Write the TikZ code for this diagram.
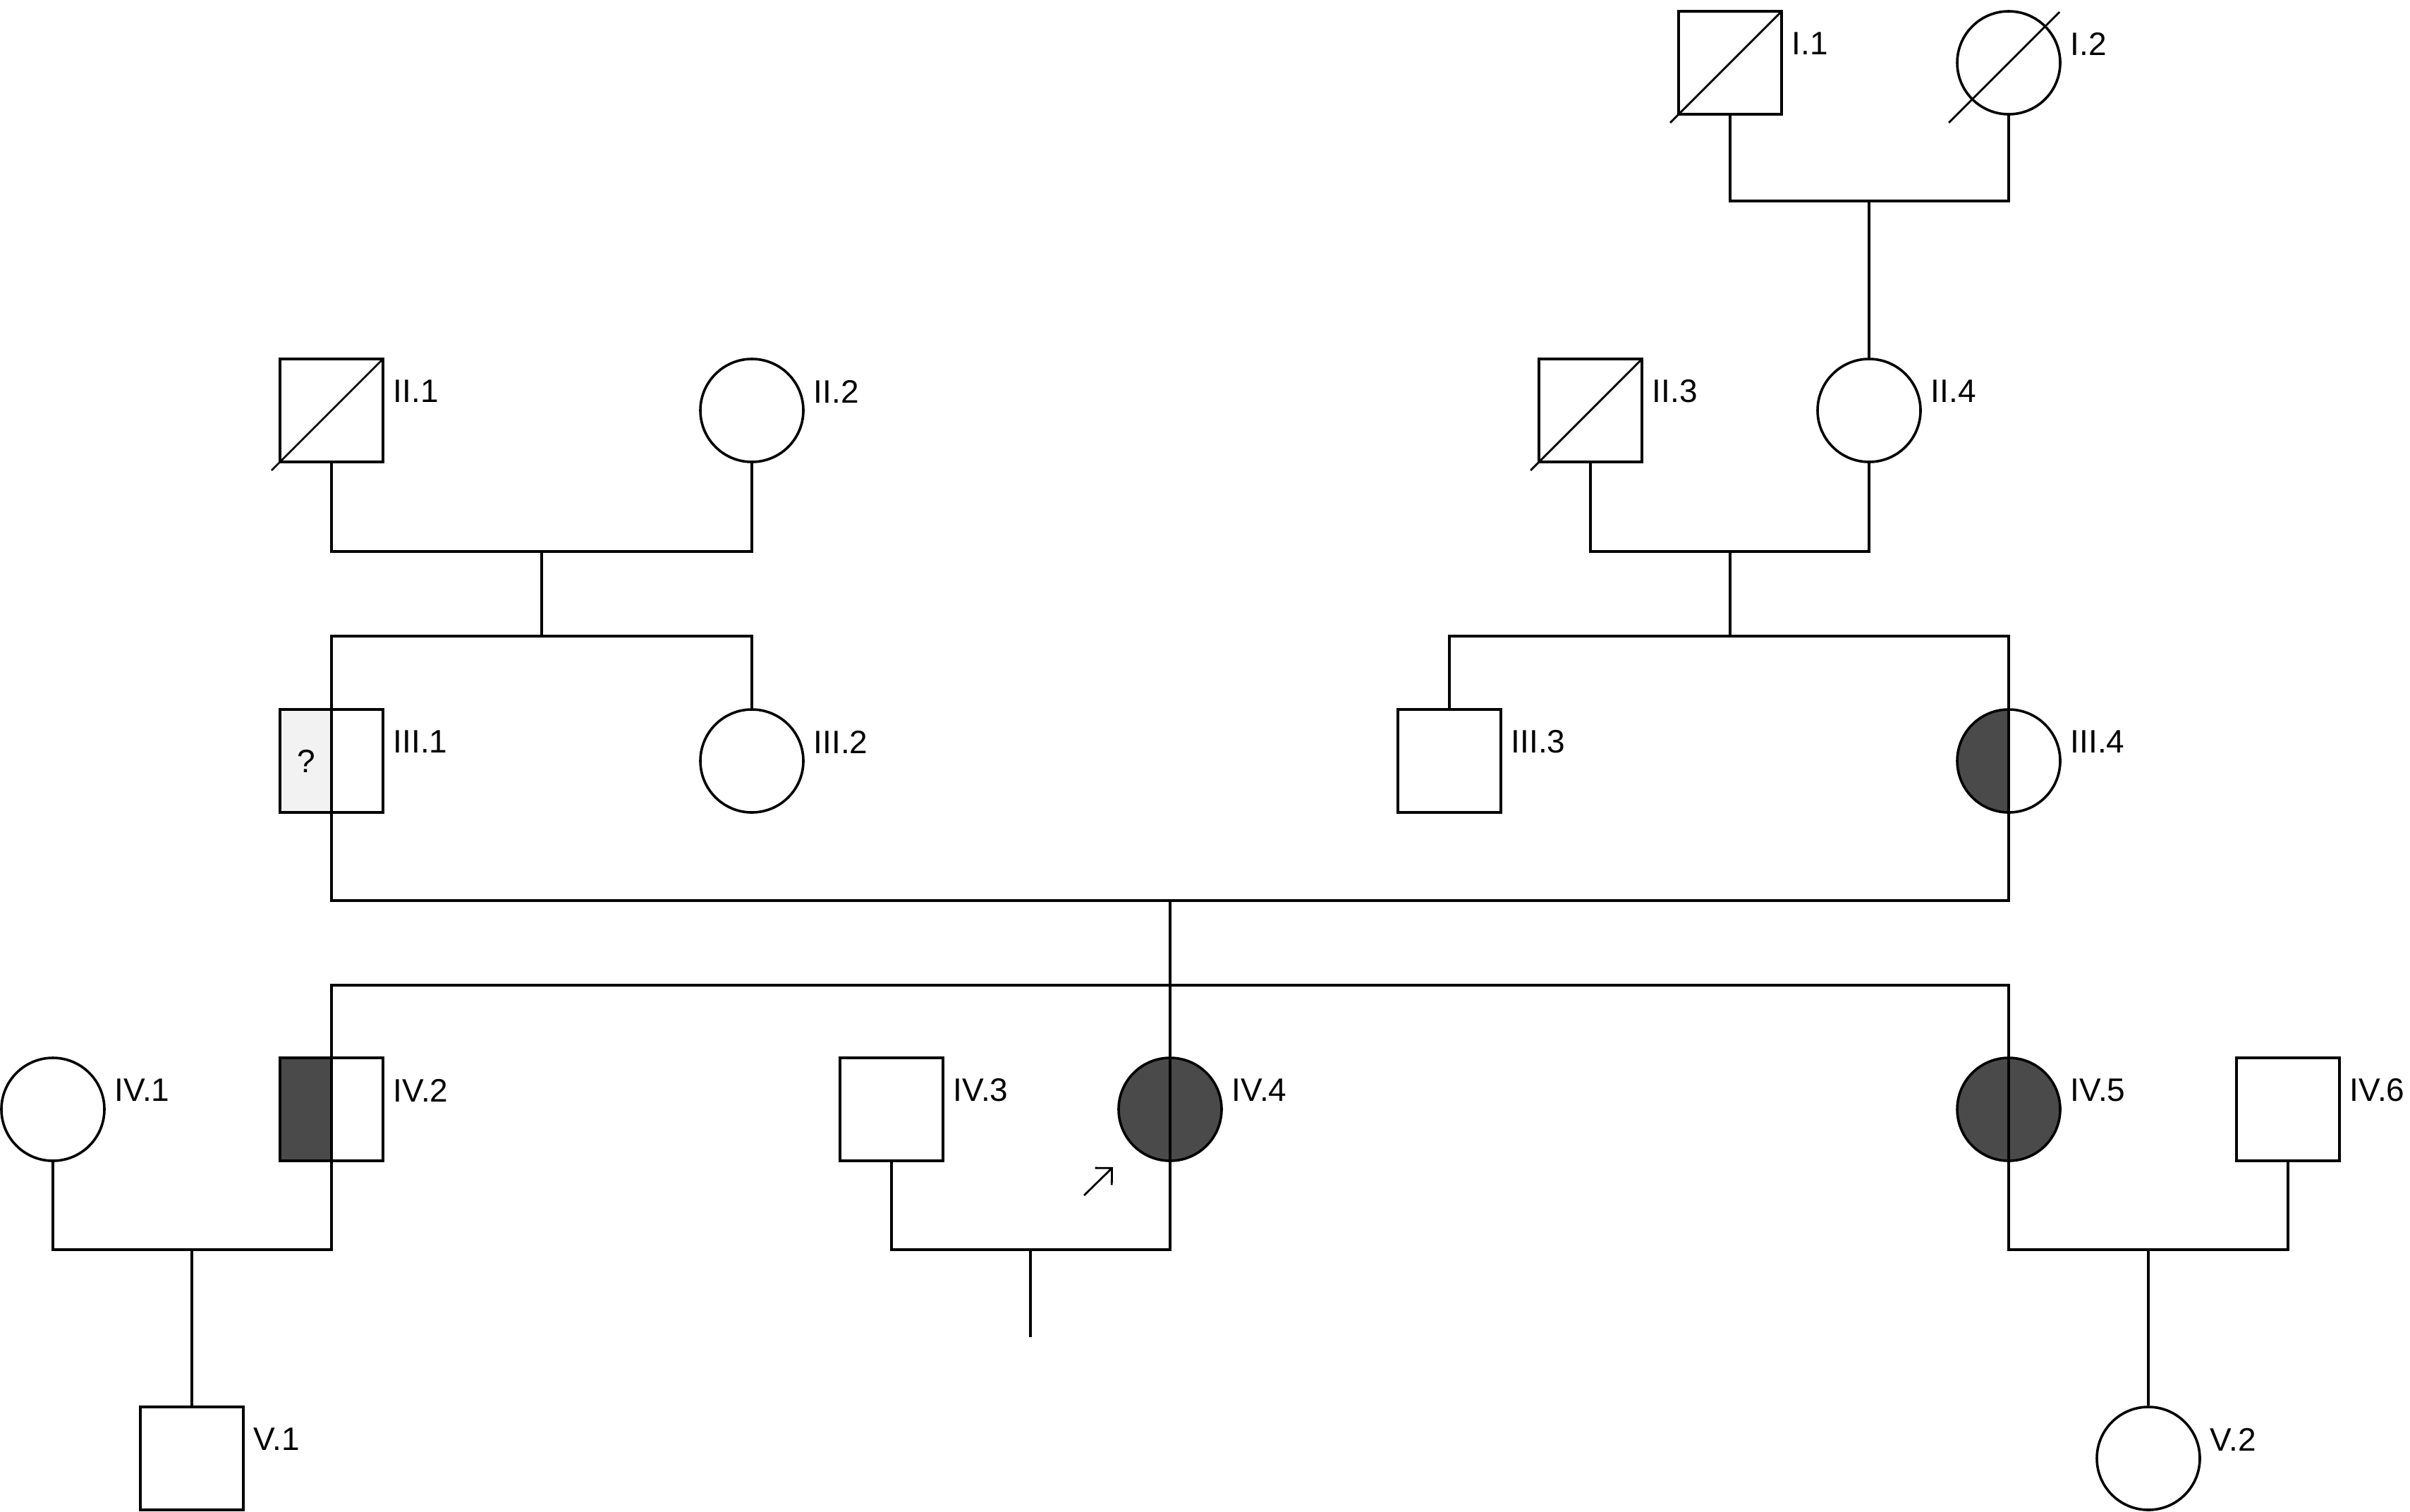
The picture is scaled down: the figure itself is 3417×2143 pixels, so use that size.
\documentclass[tikz,border=0pt]{standalone}
\usepackage{fontspec}
\setmainfont{Liberation Sans}
\newfontfamily\lblfont{Liberation Sans}
\usetikzlibrary{calc,arrows.meta}
\definecolor{affected}{HTML}{4A4A4A}
\definecolor{unknownfill}{HTML}{F2F2F2}
\tikzset{
  sym/.style={draw, line width=0.9pt, minimum size=36.5pt, inner sep=0pt, fill=white},
  male/.style={sym, rectangle},
  female/.style={sym, circle},
  lefthalf/.style={path picture={\fill[#1] (path picture bounding box.south west) rectangle (path picture bounding box.north);}},
  fullfill/.style={fill=affected},
  lbl/.style={anchor=west, inner sep=0pt, font=\lblfont\fontsize{11.5pt}{13pt}\selectfont},
  conn/.style={line width=0.9pt},
}
\begin{document}
\begin{tikzpicture}[x=0.25pt,y=-0.25pt]
\useasboundingbox (0,0) rectangle (3417,2143);
% generation I
\node[male] (I1) at (2453,89) {};
\node[female] (I2) at (2848,89) {};
% generation II
\node[male] (II1) at (470,582) {};
\node[female] (II2) at (1066,582) {};
\node[male] (II3) at (2255,582) {};
\node[female] (II4) at (2650,582) {};
% generation III
\node[male, lefthalf=unknownfill] (III1) at (470,1079) {};
\node[female] (III2) at (1066,1079) {};
\node[male] (III3) at (2055,1079) {};
\node[female, lefthalf=affected] (III4) at (2848,1079) {};
% generation IV
\node[female] (IV1) at (75,1573) {};
\node[male, lefthalf=affected] (IV2) at (470,1573) {};
\node[male] (IV3) at (1264,1573) {};
\node[female, fullfill] (IV4) at (1659,1573) {};
\node[female, fullfill] (IV5) at (2848,1573) {};
\node[male] (IV6) at (3244,1573) {};
% generation V
\node[male] (V1) at (272,2068) {};
\node[female] (V2) at (3046,2068) {};

% dividers
\foreach \n in {III1,III4,IV2,IV4,IV5} \draw[conn] (\n.north) -- (\n.south);
\node[lbl, anchor=center] (q) at (434,1079) {?};

% deceased
\foreach \n in {I1,I2,II1,II3} \draw[conn, line width=0.7pt] ($(\n)+(-85,85)$) -- ($(\n)+(72,-72)$);

% labels
\foreach \n/\t in {I1/I.1,I2/I.2,II1/II.1,II2/II.2,II3/II.3,II4/II.4,III1/III.1,III2/III.2,III3/III.3,III4/III.4,IV1/IV.1,IV2/IV.2,IV3/IV.3,IV4/IV.4,IV5/IV.5,IV6/IV.6,V1/V.1,V2/V.2}
  \node[lbl] (L\n) at ($(\n)+(87,-27)$) {\t};

% couple / sibship coordinates
\coordinate (m1) at (2650,285);
\coordinate (m2) at (768,782);
\coordinate (s2) at (768,902);
\coordinate (m3) at (2453,782);
\coordinate (s3) at (2453,902);
\coordinate (m4) at (1659,1277);
\coordinate (s4) at (1659,1397);
\coordinate (m5) at (272,1772);
\coordinate (m6) at (1461,1772);
\coordinate (e6) at (1461,1896);
\coordinate (m7) at (3046,1772);

\draw[conn] (I1.south) |- (m1) -| (I2.south);
\draw[conn] (m1) -- (II4.north);

\draw[conn] (II1.south) |- (m2) -| (II2.south);
\draw[conn] (m2) -- (s2);
\draw[conn] (III1.north) |- (s2) -| (III2.north);

\draw[conn] (II3.south) |- (m3) -| (II4.south);
\draw[conn] (m3) -- (s3);
\draw[conn] (III3.north) |- (s3) -| (III4.north);

\draw[conn] (III1.south) |- (m4) -| (III4.south);
\draw[conn] (m4) -- (IV4.north);
\draw[conn] (IV2.north) |- (s4) -| (IV5.north);

\draw[conn] (IV1.south) |- (m5) -| (IV2.south);
\draw[conn] (m5) -- (V1.north);

\draw[conn] (IV3.south) |- (m6) -| (IV4.south);
\draw[conn] (m6) -- (e6);

\draw[conn] (IV5.south) |- (m7) -| (IV6.south);
\draw[conn] (m7) -- (V2.north);

% proband arrow
\coordinate (arT) at (1537,1695);
\coordinate (arH) at (1578,1655);
\draw[line width=0.7pt, -{Straight Barb[angle=90:6pt]}] (arT) -- (arH);
\end{tikzpicture}
\end{document}
